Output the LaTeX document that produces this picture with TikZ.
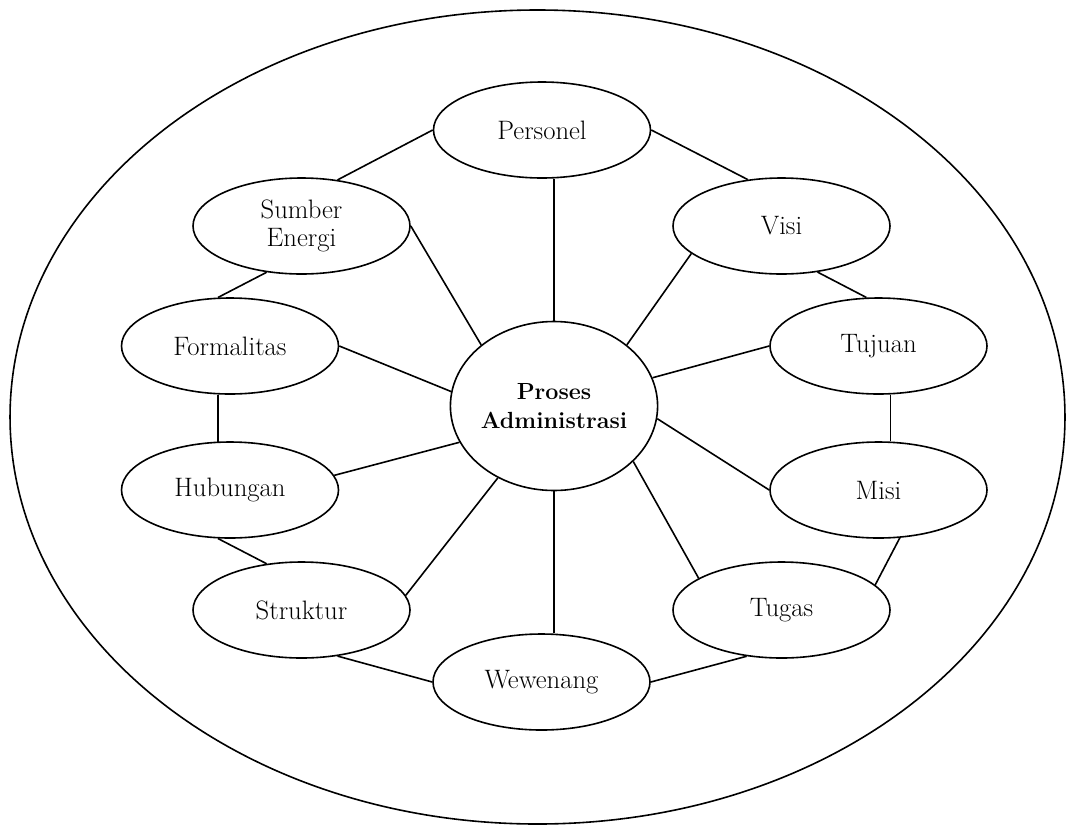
\documentclass[tikz,border=0pt]{standalone}
\usetikzlibrary{shapes.geometric}
\begin{document}
\begin{tikzpicture}[x=0.75pt,y=-0.75pt,line width=1.2pt,
  topic/.style={ellipse,draw,minimum width=162.75pt,minimum height=72pt,inner sep=0pt,
    font=\fontsize{20}{21.5}\selectfont,align=center},
  hub/.style={ellipse,draw,minimum width=144.75pt,minimum height=126.75pt,inner sep=0pt,
    font=\fontsize{17.5}{21.5}\selectfont\bfseries,align=center},
  link/.style={draw,line width=1.2pt}]
\useasboundingbox (0,0) rectangle (1067,825);
\draw (537.5,417) ellipse [x radius=395.6pt, y radius=305.25pt];

\node[hub] (C) at (554,406) {Proses\\Administrasi};
\node[topic] (P)  at (542,130)   {Personel};
\node[topic] (SE) at (301.5,226) {Sumber\\Energi};
\node[topic] (V)  at (781.5,226) {Visi};
\node[topic] (T)  at (878.5,346) {Tujuan};
\node[topic] (M)  at (878.5,490) {Misi};
\node[topic] (TG) at (781.5,610) {Tugas};
\node[topic] (W)  at (541.5,682) {Wewenang};
\node[topic] (S)  at (301.5,610) {Struktur};
\node[topic] (H)  at (230,490)   {Hubungan};
\node[topic] (F)  at (230,346)   {Formalitas};
\coordinate (tm) at (890.5,346);

% spokes
\draw[link] (C.north) -- (C.north |- P.south);
\draw[link] (C.south) -- (C.south |- W.north);
\draw[link] (C.40.5) -- (V.-163);
\draw[link] (C.16) -- (T.180.5);
\draw[link] (C.-7) -- (M.180);
\draw[link] (C.-35.4) -- (TG.159.2);
\draw[link] (C.232.5) -- (S.8.7);
\draw[link] (C.201) -- (H.8.4);
\draw[link] (C.172.9) -- (F.0);
\draw[link] (C.140.2) -- (SE.0.5);

% ring
\draw[link] (SE.52.8) -- (P.180);
\draw[link] (P.0) -- (V.126.5);
\draw[link] (V.-52.7) -- (T.104.6);
\draw[link] (tm |- T.south) -- (tm |- M.north);
\draw[link] (M.-66.4) -- (TG.15.4);
\draw[link] (TG.233.5) -- (W.0);
\draw[link] (W.180) -- (S.-52.7);
\draw[link] (S.127) -- (H.-104);
\draw[link] (H.104) -- (F.-104);
\draw[link] (F.104) -- (SE.233.5);
\end{tikzpicture}
\end{document}
